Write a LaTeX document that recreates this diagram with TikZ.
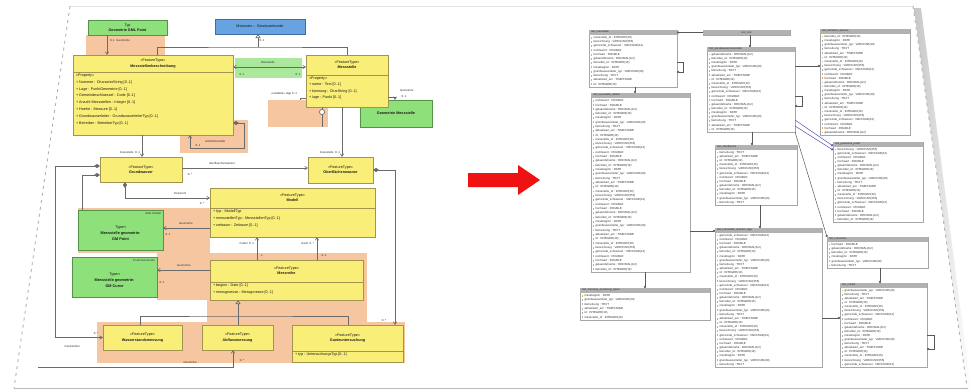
\documentclass[tikz,border=0pt]{standalone}
\usepackage{fontspec}
\setmainfont{Liberation Sans}
\usetikzlibrary{arrows.meta}

\definecolor{umlyellow}{HTML}{F9EF78}
\definecolor{umlborder}{HTML}{A0944E}
\definecolor{umlgreen}{HTML}{8EE07A}
\definecolor{greenborder}{HTML}{559448}
\definecolor{salmon}{HTML}{F5C6A0}
\definecolor{umlblue}{HTML}{66A3E0}
\definecolor{blueborder}{HTML}{3C6EA8}
\definecolor{linegray}{HTML}{6A6A6A}
\definecolor{arrowred}{HTML}{F01212}
\definecolor{keygold}{HTML}{E8C040}

% a node whose corners are given as (x0,y0) and (x1,y1)
\newcommand\boxat[6]{%
  \pgfmathsetmacro\boxW{#5-#3}%
  \pgfmathsetmacro\boxH{#6-#4}%
  \node[#1, minimum width=\boxW pt, minimum height=\boxH pt, anchor=north west] (#2) at (#3,#4) {};%
}

% column names of the database tables
\newcommand\colname[1]{\ifcase#1\relax
  id : INTEGER(10)\or
  messstelle\_id : INTEGER(10)\or
  bezeichnung : VARCHAR(255)\or
  gemeinde\_schluessel : VARCHAR(12)\or
  rechtswert : DOUBLE\or
  hochwert : DOUBLE\or
  gelaendehoehe : DECIMAL(8,2)\or
  betreiber\_id : INTEGER(10)\or
  messbeginn : DATE\or
  grundwasserleiter\_typ : VARCHAR(40)\or
  bemerkung : TEXT\or
  aktualisiert\_am : TIMESTAMP\fi}

% database table: name, x0, y0, x1, y1, rows, offset, title
\newcommand\ertable[8]{%
  \boxat{ertab}{#1}{#2}{#3}{#4}{#5}%
  \fill[erhead] (#1.north west) rectangle ([yshift=-4.5pt]#1.north east);%
  \node[ertitle, anchor=west] at ([xshift=2pt,yshift=-2.3pt]#1.north west) {#8};%
  \pgfmathsetmacro\rowh{(#5-#3-6)/#6}%
  \foreach \i in {1,...,#6}{%
    \pgfmathsetmacro\ry{#3+5.5+(\i-0.5)*\rowh}%
    \pgfmathtruncatemacro\k{mod(\i+#7,12)}%
    \ifnum\i=1 \def\icol{keygold}\else\ifnum\k=5 \def\icol{orange!70}\else\def\icol{gray!60}\fi\fi
    \fill[fill=\icol] (#2+1.5,\ry-0.9) rectangle ++(1.8,1.8);%
    \node[ercol, anchor=west] at (#2+4.5,\ry) {\colname{\k}};%
  }%
}

\tikzset{
  every node/.style={inner sep=0pt, outer sep=0pt},
  ybox/.style={draw=umlborder, fill=umlyellow, line width=0.9pt},
  gbox/.style={draw=greenborder, fill=umlgreen, line width=0.9pt},
  glabel/.style={fill=umlgreen!75, draw=none},
  bbox/.style={draw=blueborder, fill=umlblue, line width=0.9pt},
  sarea/.style={fill=salmon, draw=none},
  sepline/.style={draw=umlborder, line width=0.7pt},
  hdr/.style={font=\fontsize{3.7}{5.4}\selectfont, align=center, text=black!90},
  gtxt/.style={font=\fontsize{3.8}{6.2}\selectfont, align=center, text=black!90},
  attr/.style={font=\fontsize{3.7}{6.8}\selectfont, align=left, text=black!90},
  lbl/.style={font=\fontsize{2.9}{3.5}\selectfont, text=black!80},
  uml/.style={draw=linegray, line width=0.65pt},
  nav/.style={-{Straight Barb[length=2.6pt,width=3.2pt]}},
  ertab/.style={draw=gray!70, fill=white, line width=0.55pt},
  erhead/.style={fill=gray!60},
  ertitle/.style={font=\fontsize{2.6}{3}\selectfont, text=black!85},
  ercol/.style={font=\fontsize{2.9}{3.2}\selectfont, text=black!80},
  erlink/.style={draw=black!65, line width=0.5pt},
  erdot/.style={-{Circle[length=2.2pt]}},
}

\begin{document}
\begin{tikzpicture}[x=1pt,y=-1pt]
\useasboundingbox (0,0) rectangle (971,391);
\fill[white] (0,0) rectangle (971,391);

% ---------- the sheet ----------
\shade[left color=gray!45, right color=white] (914,8) -- (921,8) -- (971,389) -- (962,389) -- cycle;
\fill[white] (70,6) -- (913,6) -- (967,387) -- (14,388) -- cycle;
\draw[gray!20, line width=0.4pt] (70,6) -- (913,6);
\draw[gray!60, line width=0.9pt, dash pattern=on 3pt off 4pt] (70,6) -- (14,388);
\draw[gray!60, line width=0.9pt, dash pattern=on 3pt off 4pt] (913,6) -- (967,387);
\draw[gray!55, line width=1.4pt] (14,388.5) -- (968,388.5);

% ---------- UML model: coloured areas ----------
\boxat{sarea}{s1}{86}{35}{165}{55}
\boxat{sarea}{s2}{180}{120}{248}{153}
\boxat{sarea}{s3}{268}{100}{328}{127}
\boxat{sarea}{s4}{78}{208}{210}{253}
\boxat{sarea}{s5}{157}{253}{367}{300}
\boxat{sarea}{s6}{207}{298}{367}{325}
\boxat{sarea}{s7}{97}{322}{405}{363}

% ---------- UML model: data types ----------
\boxat{bbox}{bl}{215}{19}{305}{34}
\node[hdr] at (bl.center) {Messnetz :: Gewässerkunde};

\boxat{gbox}{g1}{88}{20}{167}{35}
\node[hdr] at (g1.center) {Typ\\\textbf{Geometrie GML Point}};

\boxat{glabel}{g2}{235}{58}{302}{78}
\node[lbl] at (268,62) {Messstelle};

\boxat{gbox}{g3}{360}{100}{432}{127}
\node[hdr] at (g3.center) {\textbf{Geometrie Messstelle}};

\boxat{gbox}{g4}{78}{210}{163}{250}
\node[lbl, anchor=north east] at ([xshift=-2pt,yshift=-2pt]g4.north east) {GML Modell};
\node[gtxt] at ([yshift=-3pt]g4.center) {Typen\\\textbf{Messstelle geometrie:}\\\textbf{GM Point}};

\boxat{gbox}{g5}{72}{257}{157}{297}
\node[lbl, anchor=north east] at ([xshift=-2pt,yshift=-2pt]g5.north east) {Punkt Geometrie};
\node[gtxt] at ([yshift=-3pt]g5.center) {Typen\\\textbf{Messstelle geometrie:}\\\textbf{GM Curve}};

% ---------- UML model: feature types ----------
\boxat{ybox}{y1}{73}{55}{233}{135}
\draw[sepline] (y1.west |- 0,72) -- (y1.east |- 0,72);
\node[hdr] at (y1.north |- 0,63.5) {«FeatureType»\\\textbf{Messstellenbeschreibung}};
\node[attr, anchor=north west, xshift=3pt] at (y1.west |- 0,74) {%
  «Property»\\
  + Nummer : CharacterString [0..1]\\
  + Lage : PunktGeometrie [0..1]\\
  + Gemeindeschluessel : Code [0..1]\\
  + Anzahl Messstellen : Integer [0..1]\\
  + Hoehe : Measure [0..1]\\
  + Grundwasserleiter : GrundwasserleiterTyp [0..1]\\
  + Betreiber : BetreiberTyp [0..1]};

\boxat{ybox}{y2}{306}{55}{388}{107}
\draw[sepline] (y2.west |- 0,75) -- (y2.east |- 0,75);
\node[hdr] at (y2.north |- 0,65) {«FeatureType»\\\textbf{Messstelle}};
\node[attr, anchor=north west, xshift=3pt, font=\fontsize{3.7}{6.4}\selectfont] at (y2.west |- 0,77) {%
  «Property»\\
  + name : Text [0..1]\\
  + kennung : CharString [0..1]\\
  + lage : Punkt [0..1]};

\boxat{ybox}{y3}{100}{157}{182}{182}
\node[hdr] at (y3.center) {«FeatureType»\\\textbf{Grundwasser}};

\boxat{ybox}{y4}{308}{157}{373}{183}
\node[hdr] at (y4.center) {«FeatureType»\\\textbf{Oberflächenwasser}};

\boxat{ybox}{y5}{210}{188}{375}{237}
\draw[sepline] (y5.west |- 0,208) -- (y5.east |- 0,208);
\node[hdr] at (y5.north |- 0,198) {«FeatureType»\\\textbf{Modell}};
\node[attr, anchor=north west, xshift=3pt] at (y5.west |- 0,210) {%
  + typ : ModellTyp\\
  + messstellenTyp : MessstellenTyp [0..1]\\
  + zeitraum : Zeitraum [0..1]};

\boxat{ybox}{y6}{210}{260}{363}{300}
\draw[sepline] (y6.west |- 0,282) -- (y6.east |- 0,282);
\node[hdr] at (y6.north |- 0,271) {«FeatureType»\\\textbf{Messreihe}};
\node[attr, anchor=north west, xshift=3pt, font=\fontsize{3.7}{6.4}\selectfont] at (y6.west |- 0,284) {%
  + beginn : Date [0..1]\\
  + messgroesse : Messgroesse [0..1]};

\boxat{ybox}{y7}{103}{325}{182}{350}
\node[hdr] at (y7.center) {«FeatureType»\\\textbf{Wasserstandsmessung}};

\boxat{ybox}{y8}{202}{325}{273}{350}
\node[hdr] at (y8.center) {«FeatureType»\\\textbf{Abflussmessung}};

\boxat{ybox}{y9}{292}{325}{403}{362}
\draw[sepline] (y9.west |- 0,351) -- (y9.east |- 0,351);
\node[hdr] at (y9.north |- 0,338) {«FeatureType»\\\textbf{Gueteuntersuchung}};
\node[attr, anchor=north west, xshift=3pt] at (y9.west |- 0,352.5) {+ typ : UntersuchungsTyp [0..1]};

% ---------- UML model: connectors ----------
\coordinate (gsplit) at (258,47);
\draw[uml, {Triangle[open,length=4pt,width=5pt]}-] (gsplit |- bl.south) -- (gsplit);
\draw[uml] (157,0 |- y1.north) |- (gsplit) -| (347,0 |- y2.north);
\node[lbl] at (262,40) {0..1};

\draw[uml, nav] (107,0 |- g1.south) -- (107,0 |- y1.north);
\node[lbl, anchor=west] at (110,40) {0..1 \ Geometrie};

\draw[uml, {Straight Barb[length=2.6pt,width=3.2pt]}-{Straight Barb[length=2.6pt,width=3.2pt]}] (y1.east |- 0,67) -- (y2.west |- 0,67);
\node[lbl] at (242,74) {0..1};
\node[lbl] at (298,74) {0..1};

\draw[uml] (300,0 |- s3.north) -- (300,98) -- (y2.west |- 0,98);
\node[lbl, anchor=east] at (297,94) {«voidable» lage 0..1};
\draw[uml] (322,0 |- y2.south) -- (322,0 |- s3.south);
\draw[uml, fill=white] (322,112) circle (2.6pt);

\draw[uml, nav] (y2.east |- 0,97) -- (395,97) -- (395,0 |- g3.north);
\node[lbl, anchor=west] at (400,90) {Geometrie};
\node[lbl] at (404,96) {0..1};

\draw[uml, {Diamond[length=6pt,width=4pt]}-{Straight Barb[length=2.6pt,width=3.2pt]}]
  (y1.east |- 0,123) -- (244,123) -- (244,148) -- (190,148) -- (190,0 |- y1.south);
\node[lbl, anchor=west] at (205,141) {unterMessstelle};
\node[lbl] at (198,145) {0..1};

\draw[uml, nav] (142,0 |- y1.south) -- (142,0 |- y3.north);
\node[lbl, anchor=east] at (140,152) {messstelle \ 0..1};
\draw[uml, nav] (342,0 |- y2.south) -- (342,0 |- y4.north);
\node[lbl, anchor=east] at (340,152) {messstelle \ 0..1};

\draw[uml, nav] (y3.east |- 0,168) -- (y4.west |- 0,168);
\node[lbl] at (222,163) {oberflaechenwasser};
\node[lbl] at (190,174) {0..*};

\draw[uml, {Diamond[length=6pt,width=4pt]}-{Straight Barb[length=2.6pt,width=3.2pt]}]
  (y3.west |- 0,166) -- (55,166) -- (55,0 |- y7.west) -- (y7.west);
\node[lbl] at (72,346) {messstellen};
\node[lbl] at (96,333) {0..*};
\draw[uml, {Diamond[length=6pt,width=4pt]}-] (y3.west |- 0,175) -- (82,175) -- (82,0 |- g4.north);

\draw[uml, {Diamond[length=6pt,width=4pt]}-{Straight Barb[length=2.6pt,width=3.2pt]}]
  (125,0 |- y3.south) -- (125,198) -- (y5.west |- 0,198);
\node[lbl] at (180,194) {messnetz};
\node[lbl] at (202,203) {0..*};

\draw[uml, {Diamond[length=6pt,width=4pt]}-{Straight Barb[length=2.6pt,width=3.2pt]}]
  (y4.east |- 0,170) -- (395,170) -- (395,0 |- y9.north);
\node[lbl] at (384,320) {0..*};

\draw[uml, nav] (y5.west |- 0,228) -- (g4.east |- 0,228);
\node[lbl] at (186,223) {Geometrie};
\node[lbl] at (168,234) {0..1};

\draw[uml, nav] (y6.west |- 0,270) -- (g5.east |- 0,270);
\node[lbl] at (184,265) {Geometrie};
\node[lbl] at (162,282) {0..1};

\draw[uml, nav] (257,0 |- y6.north) -- (257,0 |- y5.south);
\node[lbl, anchor=east] at (254,243) {model \ 0..1};
\node[lbl] at (262,255) {1};
\draw[uml, nav] (317,0 |- y6.north) -- (317,0 |- y5.south);
\node[lbl, anchor=east] at (314,243) {result \ 0..*};
\node[lbl] at (324,255) {0..1};

\coordinate (gsplit2) at (238,316);
\draw[uml, {Triangle[open,length=4pt,width=5pt]}-] (gsplit2 |- y6.south) -- (gsplit2);
\draw[uml] (140,0 |- y7.north) |- (gsplit2) -| (348,0 |- y9.north);
\draw[uml] (gsplit2) -- (gsplit2 |- y8.north);

\coordinate (bstart) at (38,367);
\draw[uml, nav] (bstart) -- (233,367) -- (233,0 |- y8.south);
\node[lbl] at (190,362) {messreihe};
\node[lbl] at (242,360) {0..*};

% ---------- the arrow between both models ----------
\fill[arrowred] (468,173) -- (518,173) -- (518,165) -- (540,180) -- (518,195) -- (518,187) -- (468,187) -- cycle;

% ---------- database schema ----------
\ertable{t1}{589}{30}{677}{87}{12}{0}{mst\_messstelle}
\ertable{t2}{591}{93}{690}{272}{40}{3}{mst\_messstelle\_details}
\ertable{t3}{580}{288}{710}{320}{6}{7}{mst\_messung\_zuordnung\_typen}
\boxat{ertab}{t4}{703}{30}{790}{35}
\fill[erhead] (t4.north west) rectangle (t4.south east);
\node[ertitle] at (t4.center) {mst\_netz};
\ertable{t5}{707}{47}{795}{132}{19}{5}{mst\_grundwassermessstelle}
\ertable{t6}{715}{145}{797}{205}{13}{9}{mst\_oberflaeche}
\ertable{t7}{715}{228}{822}{367}{32}{2}{mst\_messstelle\_standort\_lage}
\ertable{t8}{820}{29}{910}{135}{24}{6}{mst\_betreiber\_adresse}
\ertable{t9}{833}{142}{923}{222}{18}{1}{mst\_geometrie\_punkt}
\ertable{t10}{827}{237}{928}{268}{6}{4}{mst\_messreihe}
\ertable{t11}{840}{283}{927}{367}{19}{8}{mst\_modell}

% ---------- database schema: references ----------
\draw[erlink, erdot] (t4.west) -- (t1.east |- t4.west);
\draw[erlink, erdot] (750,0 |- t4.south) -- (750,0 |- t5.north);
\draw[erlink, erdot] (t1.east |- 0,62) -- ++(6,0) -- ++(0,10) -- (t1.east |- 0,72);
\draw[erlink, erdot] (635,0 |- t1.south) -- (635,0 |- t2.north);
\draw[erlink, erdot] (t5.east |- 0,66) -- (t8.west |- 0,66);
\draw[erlink, erdot] (t5.east |- 0,96) -- ++(7,0) -- ++(0,10) -- (t5.east |- 0,106);
\draw[erlink, draw=blue!35!gray, erdot] (t5.east |- 0,120) -- (t9.west |- 0,146);
\draw[erlink, draw=blue!35!gray, erdot] (t5.east |- 0,126) -- (t9.west |- 0,150);
\draw[erlink, erdot] (752,0 |- t5.south) -- (752,0 |- t6.north);
\draw[erlink, erdot] (760,0 |- t6.south) -- (760,0 |- t7.north);
\draw[erlink, erdot] (t2.east |- 0,231) -- (t7.west |- 0,231);
\draw[erlink, erdot] (645,0 |- t2.south) -- (645,0 |- t3.north);
\draw[erlink, erdot] (t5.south east) -- (t10.north west);
\draw[erlink, erdot] (880,0 |- t10.south) -- (880,0 |- t11.north);
\draw[erlink, erdot] (t7.east |- 0,318) -- (t11.west |- 0,318);
\draw[erlink, erdot] (t11.east |- 0,335) -- ++(7,0) -- ++(0,14) -- (t11.east |- 0,349);
\end{tikzpicture}
\end{document}
